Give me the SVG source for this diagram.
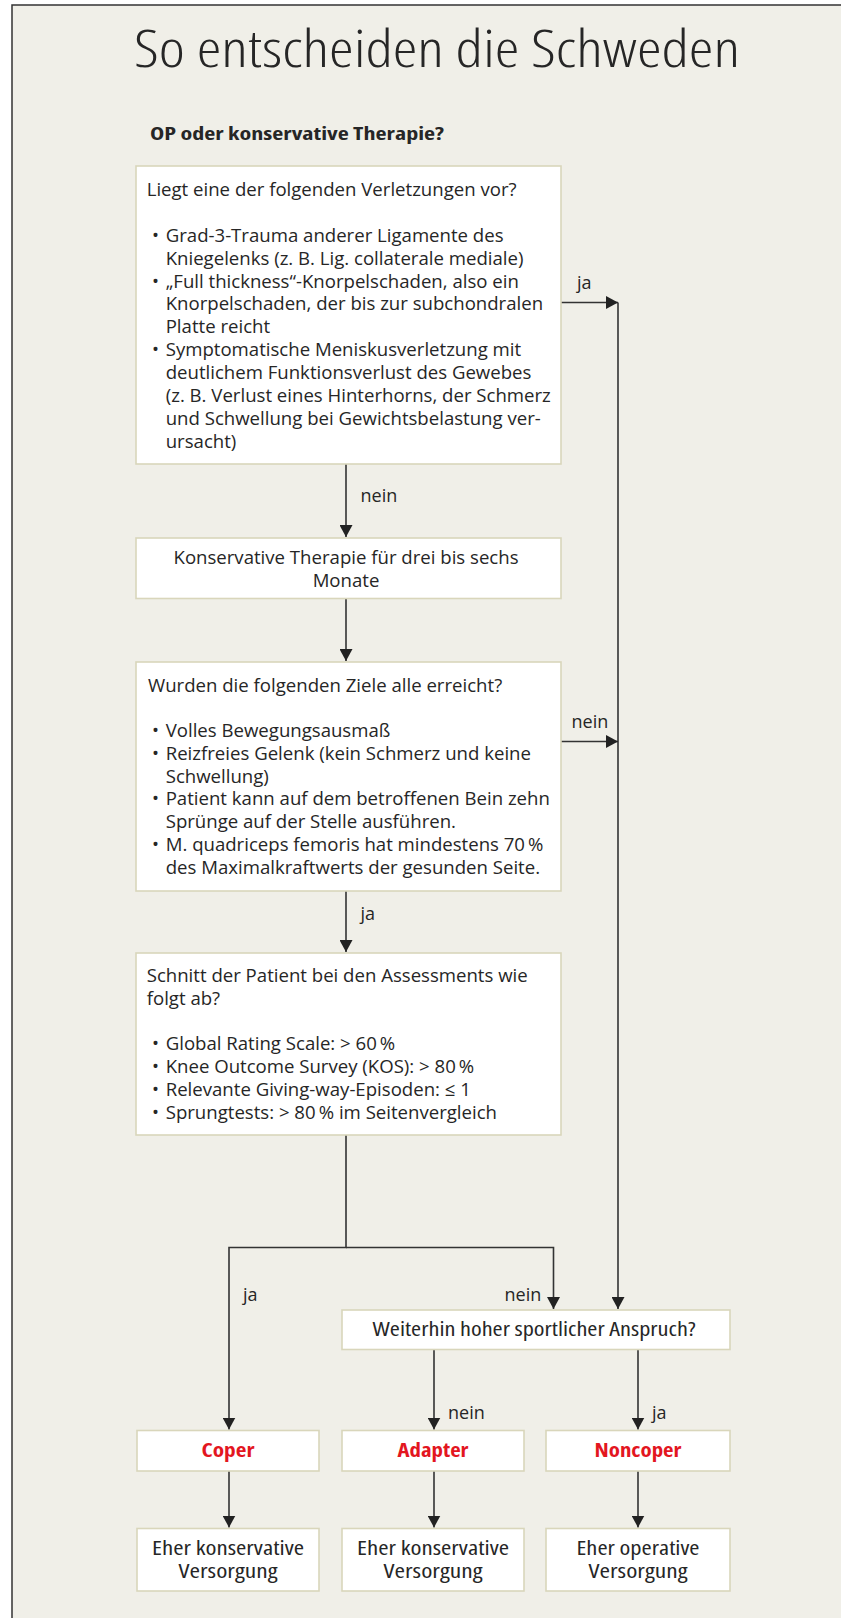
<svg xmlns="http://www.w3.org/2000/svg" width="841" height="1618" viewBox="0 0 841 1618">
<defs>
<marker id="ah" markerUnits="userSpaceOnUse" markerWidth="13" markerHeight="13" refX="12" refY="6.5" orient="auto">
<path d="M0,0 L12,6.5 L0,13 z" fill="#222"/>
</marker>
<style>
.box{fill:#fff;stroke:#d9d6bb;stroke-width:1.6}
.t{font-family:"Open Sans","Noto Sans","Liberation Sans",sans-serif;font-size:18.6px;fill:#262626}
.c{font-family:"Open Sans","Liberation Sans",sans-serif;font-stretch:condensed;font-size:19px;fill:#262626;text-anchor:middle}
.r{font-family:"Open Sans","Liberation Sans",sans-serif;font-stretch:condensed;font-size:19px;font-weight:bold;fill:#e3161f;text-anchor:middle}
.lab{font-family:"Open Sans","Noto Sans","Liberation Sans",sans-serif;font-size:18px;fill:#262626}
.ln{fill:none;stroke:#333;stroke-width:1.6;marker-end:url(#ah)}
</style>
</defs>
<rect x="0" y="0" width="841" height="1618" fill="#fff"/>
<rect x="12" y="5" width="840" height="1620" fill="#f0efe8" stroke="#333" stroke-width="1.5"/>
<text x="134" y="67" font-family="Open Sans, Liberation Sans, sans-serif" font-weight="300" font-stretch="condensed" font-size="52" fill="#262626" textLength="606" lengthAdjust="spacingAndGlyphs">So entscheiden die Schweden</text>
<text x="150" y="140" font-family="Open Sans, Liberation Sans, sans-serif" font-stretch="condensed" font-size="18" font-weight="bold" fill="#262626" textLength="294" lengthAdjust="spacingAndGlyphs">OP oder konservative Therapie?</text>

<g id="connectors">
<path class="ln" d="M346,464 V537"/>
<path class="ln" d="M346,598.5 V661"/>
<path class="ln" d="M346,891 V952"/>
<path class="ln" d="M346,1135 V1247.5 H229 V1429.5"/>
<path class="ln" d="M346,1247.5 H553.5 V1309"/>
<path class="ln" d="M561,302.5 H618"/>
<path class="ln" d="M618,302.5 V1309"/>
<path class="ln" d="M561,741.5 H618"/>
<path class="ln" d="M434,1349.5 V1429.5"/>
<path class="ln" d="M638,1349.5 V1429.5"/>
<path class="ln" d="M229,1471 V1527.5"/>
<path class="ln" d="M434,1471 V1527.5"/>
<path class="ln" d="M638,1471 V1527.5"/>
<text class="lab" x="360.5" y="502">nein</text>
<text class="lab" x="577" y="289">ja</text>
<text class="lab" x="571.5" y="728">nein</text>
<text class="lab" x="360.5" y="920">ja</text>
<text class="lab" x="243" y="1300.5">ja</text>
<text class="lab" x="504.5" y="1300.5">nein</text>
<text class="lab" x="448" y="1419">nein</text>
<text class="lab" x="652" y="1419">ja</text>
</g>

<g id="n1">
<rect class="box" x="136" y="166" width="425" height="298"/>
<text class="t" x="146.7" y="196">Liegt eine der folgenden Verletzungen vor?</text>
<text class="t" x="152" y="241.7">•</text><text class="t" x="165.7" y="241.7">Grad-3-Trauma anderer Ligamente des</text>
<text class="t" x="165.7" y="264.6">Kniegelenks (z. B. Lig. collaterale mediale)</text>
<text class="t" x="152" y="287.5">•</text><text class="t" x="165.7" y="287.5">„Full thickness“-Knorpelschaden, also ein</text>
<text class="t" x="165.7" y="310.4">Knorpelschaden, der bis zur subchondralen</text>
<text class="t" x="165.7" y="333.3">Platte reicht</text>
<text class="t" x="152" y="356.2">•</text><text class="t" x="165.7" y="356.2">Symptomatische Meniskusverletzung mit</text>
<text class="t" x="165.7" y="379.1">deutlichem Funktionsverlust des Gewebes</text>
<text class="t" x="165.7" y="402">(z. B. Verlust eines Hinterhorns, der Schmerz</text>
<text class="t" x="165.7" y="424.9">und Schwellung bei Gewichtsbelastung ver-</text>
<text class="t" x="165.7" y="447.8">ursacht)</text>
</g>

<g id="n2">
<rect class="box" x="136" y="538" width="425" height="60.5"/>
<text class="t" x="346" y="564.3" text-anchor="middle">Konservative Therapie für drei bis sechs</text>
<text class="t" x="346" y="586.7" text-anchor="middle">Monate</text>
</g>

<g id="n3">
<rect class="box" x="136" y="662" width="425" height="229"/>
<text class="t" x="148" y="691.7">Wurden die folgenden Ziele alle erreicht?</text>
<text class="t" x="152" y="736.7">•</text><text class="t" x="165.7" y="736.7">Volles Bewegungsausmaß</text>
<text class="t" x="152" y="759.6">•</text><text class="t" x="165.7" y="759.6">Reizfreies Gelenk (kein Schmerz und keine</text>
<text class="t" x="165.7" y="782.5">Schwellung)</text>
<text class="t" x="152" y="805.4">•</text><text class="t" x="165.7" y="805.4">Patient kann auf dem betroffenen Bein zehn</text>
<text class="t" x="165.7" y="828.3">Sprünge auf der Stelle ausführen.</text>
<text class="t" x="152" y="851.2">•</text><text class="t" x="165.7" y="851.2">M. quadriceps femoris hat mindestens 70&#8201;%</text>
<text class="t" x="165.7" y="874.1">des Maximalkraftwerts der gesunden Seite.</text>
</g>

<g id="n4">
<rect class="box" x="136" y="953" width="425" height="182"/>
<text class="t" x="146.7" y="981.7">Schnitt der Patient bei den Assessments wie</text>
<text class="t" x="146.7" y="1004.6">folgt ab?</text>
<text class="t" x="152" y="1050.4">•</text><text class="t" x="165.7" y="1050.4">Global Rating Scale: &gt; 60&#8201;%</text>
<text class="t" x="152" y="1073.3">•</text><text class="t" x="165.7" y="1073.3">Knee Outcome Survey (KOS): &gt; 80&#8201;%</text>
<text class="t" x="152" y="1096.2">•</text><text class="t" x="165.7" y="1096.2">Relevante Giving-way-Episoden: ≤ 1</text>
<text class="t" x="152" y="1119.1">•</text><text class="t" x="165.7" y="1119.1">Sprungtests: &gt; 80&#8201;% im Seitenvergleich</text>
</g>

<g id="n5">
<rect class="box" x="342" y="1310" width="388" height="39.5"/>
<text class="c" x="534" y="1336" textLength="323" lengthAdjust="spacingAndGlyphs">Weiterhin hoher sportlicher Anspruch?</text>
</g>

<g id="n6">
<rect class="box" x="137" y="1430.5" width="182" height="40.5"/>
<text class="r" x="228" y="1457" textLength="53" lengthAdjust="spacingAndGlyphs">Coper</text>
</g>
<g id="n7">
<rect class="box" x="342" y="1430.5" width="182" height="40.5"/>
<text class="r" x="433" y="1457" textLength="71" lengthAdjust="spacingAndGlyphs">Adapter</text>
</g>
<g id="n8">
<rect class="box" x="546" y="1430.5" width="184" height="40.5"/>
<text class="r" x="638" y="1457" textLength="87" lengthAdjust="spacingAndGlyphs">Noncoper</text>
</g>

<g id="n9">
<rect class="box" x="137" y="1528.5" width="182" height="62.5"/>
<text class="c" x="228" y="1555" textLength="152" lengthAdjust="spacingAndGlyphs">Eher konservative</text>
<text class="c" x="228" y="1578.3" textLength="99" lengthAdjust="spacingAndGlyphs">Versorgung</text>
</g>
<g id="n10">
<rect class="box" x="342" y="1528.5" width="182" height="62.5"/>
<text class="c" x="433" y="1555" textLength="152" lengthAdjust="spacingAndGlyphs">Eher konservative</text>
<text class="c" x="433" y="1578.3" textLength="99" lengthAdjust="spacingAndGlyphs">Versorgung</text>
</g>
<g id="n11">
<rect class="box" x="546" y="1528.5" width="184" height="62.5"/>
<text class="c" x="638" y="1555" textLength="123" lengthAdjust="spacingAndGlyphs">Eher operative</text>
<text class="c" x="638" y="1578.3" textLength="99" lengthAdjust="spacingAndGlyphs">Versorgung</text>
</g>
</svg>
